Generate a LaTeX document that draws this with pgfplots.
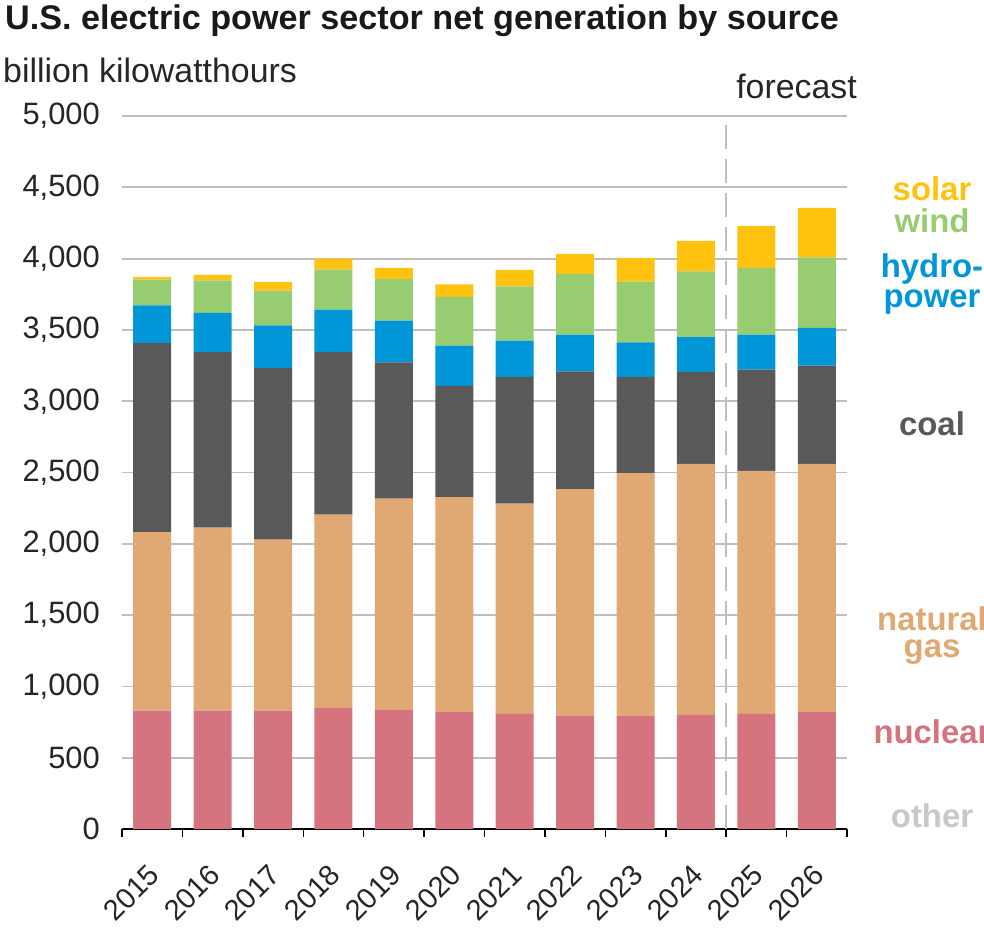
\documentclass[border=0pt]{standalone}
\usepackage{fontspec}
\setmainfont{Liberation Sans}
\usepackage{pgfplots}
\usepackage{pgfplotstable}
\pgfplotsset{compat=1.18}
\definecolor{cnuc}{HTML}{D5737F}
\definecolor{cgas}{HTML}{E0A872}
\definecolor{ccoal}{HTML}{595959}
\definecolor{chydro}{HTML}{0096D7}
\definecolor{cwind}{HTML}{98CC70}
\definecolor{csolar}{HTML}{FFC20E}
\definecolor{cother}{HTML}{C8C8C8}
\definecolor{gridgray}{HTML}{BFBFBF}
\definecolor{txt}{HTML}{262626}

\pgfplotstableread{
x nuc gas coal hydro wind solar
0 830 1252 1326 264 180 20
1 830 1284 1231 274 229 38
2 830 1200 1203 299 243 62
3 847 1357 1141 297 281 77
4 835 1481 956 293 292 78
5 819 1509 779 282 342 89
6 807 1474 889 255 381 115
7 795 1589 825 258 426 140
8 795 1701 674 243 426 166
9 800 1761 644 245 461 213
10 807 1705 709 246 468 294
11 819 1742 688 265 495 347
}\datatable

\begin{document}
\begin{tikzpicture}
\useasboundingbox (0,0) rectangle (984bp,-928bp);
\begin{axis}[
  at={(122bp,-829bp)}, anchor=south west,
  scale only axis, width=725bp, height=713bp,
  xmin=-0.5, xmax=11.5, ymin=0, ymax=5000,
  ybar stacked, bar width=38bp,
  axis x line*=bottom, axis y line*=left,
  y axis line style={draw=none},
  x axis line style={black, line width=1.5bp},
  xtick={0,...,11},
  xticklabels={2015,2016,2017,2018,2019,2020,2021,2022,2023,2024,2025,2026},
  major x tick style={draw=none},
  minor xtick={-0.5,0.5,...,11.5},
  minor x tick style={black, line width=1.5bp},
  minor tick length=8bp,
  xtick align=outside,
  ytick={0,500,...,5000},
  ytick style={draw=none},
  major tick length=0pt,
  ymajorgrids,
  grid style={gridgray, line width=1.8bp},
  /pgf/number format/assume math mode=true,
  /pgf/number format/1000 sep={,},
  yticklabel style={font=\fontsize{31}{31}\selectfont, text=txt, anchor=east, inner sep=0pt, xshift=-22bp},
  xticklabel style={font=\fontsize{29}{29}\selectfont, text=txt, inner sep=0pt, xshift=2bp, yshift=-41bp, rotate=45, anchor=east},
  clip=false,
]
\addplot[fill=cnuc, draw=none] table[x=x, y=nuc] {\datatable};
\addplot[fill=cgas, draw=none] table[x=x, y=gas] {\datatable};
\addplot[fill=ccoal, draw=none] table[x=x, y=coal] {\datatable};
\addplot[fill=chydro, draw=none] table[x=x, y=hydro] {\datatable};
\addplot[fill=cwind, draw=none] table[x=x, y=wind] {\datatable};
\addplot[fill=csolar, draw=none] table[x=x, y=solar] {\datatable};
\draw[gridgray, line width=1.8bp, dash pattern=on 24bp off 10bp] (axis cs:9.5,0) -- (axis cs:9.5,4950);
\end{axis}
\node[anchor=base west, font=\bfseries\fontsize{34.3}{34}\selectfont, text=black!90, inner sep=0pt] at (5bp,-29bp) {U.S. electric power sector net generation by source};
\node[anchor=base west, font=\fontsize{34}{34}\selectfont, text=txt, inner sep=0pt] at (3bp,-82bp) {billion kilowatthours};
\node[anchor=base east, font=\fontsize{34}{34}\selectfont, text=txt, inner sep=0pt] at (857bp,-98bp) {forecast};
\begin{scope}[every node/.style={anchor=base, inner sep=0pt, font=\bfseries\fontsize{33}{33}\selectfont}]
\node[text=csolar] at (932bp,-200bp) {solar};
\node[text=cwind] at (932bp,-232bp) {wind};
\node[text=chydro] at (932bp,-277bp) {hydro-};
\node[text=chydro] at (932bp,-307bp) {power};
\node[text=ccoal] at (932bp,-435bp) {coal};
\node[text=cgas] at (932bp,-630bp) {natural};
\node[text=cgas] at (932bp,-657bp) {gas};
\node[text=cnuc] at (932bp,-743bp) {nuclear};
\node[text=cother] at (932bp,-827bp) {other};
\end{scope}
\end{tikzpicture}
\end{document}
